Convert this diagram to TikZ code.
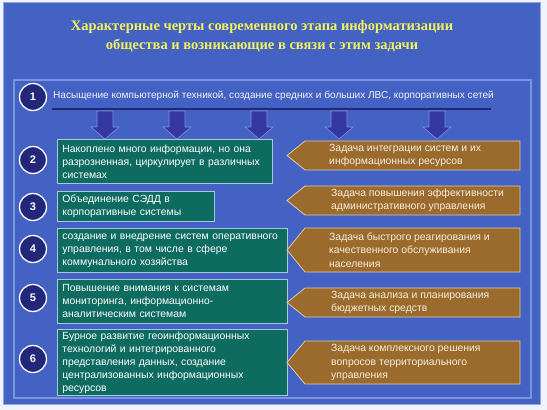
\documentclass[tikz,border=0pt]{standalone}
\usepackage{fontspec}
\setmainfont{Liberation Sans}
\newfontfamily\titlefont{Liberation Serif}
\definecolor{bgblue}{HTML}{4462C4}
\definecolor{panelline}{HTML}{7B93E0}
\definecolor{outerline}{HTML}{8FA3E6}
\definecolor{boxgreen}{HTML}{0E6B60}
\definecolor{greenline}{HTML}{A6C8D8}
\definecolor{boxbrown}{HTML}{9B6B2E}
\definecolor{brownline}{HTML}{DCCCAC}
\definecolor{navy}{HTML}{23277A}
\definecolor{arrowfill}{HTML}{3538A0}
\definecolor{arrowline}{HTML}{8090E0}
\definecolor{titleyellow}{HTML}{F2F25A}
\definecolor{cream}{HTML}{F6EEDC}
\begin{document}
\begin{tikzpicture}[x=1pt,y=-1pt,
  numcirc/.style={circle,fill=navy,draw=white,line width=1.3pt,minimum size=27pt,inner sep=0pt,
    text=white,font=\fontsize{11}{11}\selectfont\bfseries},
  greenbox/.style={draw=greenline,fill=boxgreen,line width=0.8pt,anchor=north west,inner xsep=5pt,inner ysep=2pt,
    align=left,text=white,font=\fontsize{10.4}{13}\selectfont},
  brownshape/.style={draw=brownline,fill=boxbrown,line width=0.8pt},
  btext/.style={anchor=west,align=left,text=cream,inner sep=0pt,font=\fontsize{10.4}{13.5}\selectfont},
  blockarrow/.style={draw=arrowline,fill=arrowfill,line width=0.6pt},
]
\useasboundingbox (0,0) rectangle (547,410);
\fill[white!92!bgblue] (0,0) rectangle (547,410);
\draw[fill=bgblue,draw=outerline,line width=1pt] (3,2) rectangle (540,404);
\draw[draw=panelline,line width=1.2pt] (14,80) rectangle (531,398);

% title
\node[font=\titlefont\fontsize{14.5}{19}\selectfont\bfseries,text=titleyellow,align=center] (title) at (262,36)
  {Характерные черты современного этапа информатизации\\общества и возникающие в связи с этим задачи};

% row 1
\node[numcirc] (c1) at (33,97) {1};
\node[anchor=west,text=white!92!bgblue,font=\fontsize{10.05}{12}\selectfont,inner sep=0pt] (t1) at (53,96)
  {Насыщение компьютерной техникой, создание средних и больших ЛВС, корпоративных сетей};
\coordinate (ulA) at (52,109);
\coordinate (ulB) at (491,109);
\draw[navy,line width=2.5pt] (ulA) -- (ulB);

% block arrows
\foreach \x in {105,177,259,339,437}{
  \draw[blockarrow] (\x-8,111) -- (\x+8,111) -- (\x+8,127) -- (\x+14,127) -- (\x,139)
     -- (\x-14,127) -- (\x-8,127) -- cycle;
}

% green boxes
\node[greenbox,minimum width=215pt,minimum height=44pt,text width=205pt] (g2) at (57,139)
  {Накоплено много информации, но она\\разрозненная, циркулирует в различных\\системах};
\node[greenbox,minimum width=157pt,minimum height=30pt,text width=147pt] (g3) at (57,191)
  {Объединение СЭДД в\\корпоративные системы};
\node[greenbox,minimum width=230pt,minimum height=44pt,text width=220pt] (g4) at (57,228)
  {создание и внедрение систем оперативного\\управления, в том числе в сфере\\коммунального хозяйства};
\node[greenbox,minimum width=230pt,minimum height=44pt,text width=220pt] (g5) at (57,279)
  {Повышение внимания к системам\\мониторинга, информационно-\\аналитическим системам};
\node[greenbox,minimum width=230pt,minimum height=66pt,text width=220pt] (g6) at (57,329)
  {Бурное развитие геоинформационных\\технологий и интегрированного\\представления данных, создание\\централизованных информационных\\ресурсов};

% number circles
\node[numcirc] (c2) at (33,160) {2};
\node[numcirc] (c3) at (33,207) {3};
\node[numcirc] (c4) at (33,249) {4};
\node[numcirc] (c5) at (33,298) {5};
\node[numcirc] (c6) at (33,359) {6};

% brown task shapes
\path[brownshape] (305,141) -- (520,141) -- (520,170) -- (305,170) -- (287,155.5) -- cycle;
\node[btext] (bA) at (329,155.5) {Задача интеграции систем и их\\информационных ресурсов};
\path[brownshape] (305,186) -- (520,186) -- (520,215) -- (305,215) -- (287,200.5) -- cycle;
\node[btext] (bB) at (331,200.5) {Задача повышения эффективности\\административного управления};
\path[brownshape] (305,228) -- (520,228) -- (520,272) -- (305,272) -- (287,250) -- cycle;
\node[btext] (bC) at (329,250) {Задача быстрого реагирования и\\качественного обслуживания\\населения};
\path[brownshape] (305,288) -- (520,288) -- (520,317) -- (305,317) -- (287,302.5) -- cycle;
\node[btext] (bD) at (331,302.5) {Задача анализа и планирования\\бюджетных средств};
\path[brownshape] (305,341) -- (520,341) -- (520,384) -- (305,384) -- (287,362.5) -- cycle;
\node[btext] (bE) at (331,362.5) {Задача комплексного решения\\вопросов территориального\\управления};
\end{tikzpicture}
\end{document}
